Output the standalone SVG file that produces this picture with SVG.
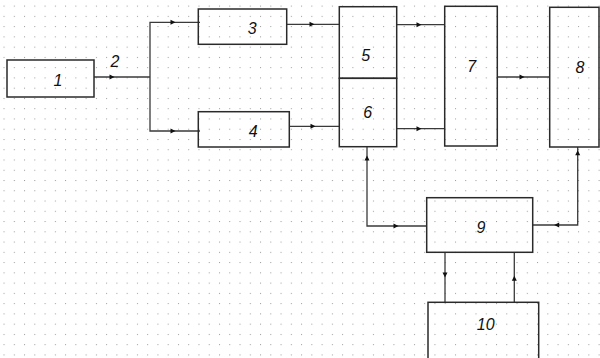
<svg xmlns="http://www.w3.org/2000/svg" width="600" height="358" viewBox="0 0 600 358">
<style>
.box{fill:none;stroke:#2a2a2a;stroke-width:1.5}
.ln{fill:none;stroke:#3a3a3a;stroke-width:1.3}
.lbl{font-family:"Liberation Sans",Arial,sans-serif;font-style:italic;font-size:16px;fill:#111;text-anchor:middle;dominant-baseline:central}
.ah{fill:#111}
</style>
<defs>
<pattern id="dots" patternUnits="userSpaceOnUse" x="13.8" y="5.6" width="10.26" height="10.26">
<rect x="0" y="0" width="1" height="1" fill="#9a9a9a"/>
</pattern>
<polygon id="ar" points="-2.5,-2.5 2.5,0 -2.5,2.5"/>
</defs>
<rect width="600" height="358" fill="#fff"/>
<rect width="600" height="358" fill="url(#dots)"/>
<g id="connectors">
<polyline class="ln" points="94,77 150,77"/>
<polyline class="ln" points="200,22.3 150,22.3 150,131 200,131"/>
<polyline class="ln" points="286.7,24.3 339.3,24.3"/>
<polyline class="ln" points="289.3,126.3 339.3,126.3"/>
<polyline class="ln" points="396.7,24.7 444.7,24.7"/>
<polyline class="ln" points="396.7,128.7 444.7,128.7"/>
<polyline class="ln" points="497.3,77 549.7,77"/>
<polyline class="ln" points="367,147 367,226 426.7,226"/>
<polyline class="ln" points="532.7,225 577.7,225 577.7,147"/>
<polyline class="ln" points="445,252.3 445,302.3"/>
<polyline class="ln" points="514.3,252.3 514.3,302.3"/>
<g class="ah">
<use href="#ar" transform="translate(112,77)"/>
<use href="#ar" transform="translate(173,22.3)"/>
<use href="#ar" transform="translate(173,131)"/>
<use href="#ar" transform="translate(312,24.3)"/>
<use href="#ar" transform="translate(313,126.3)"/>
<use href="#ar" transform="translate(419,24.7)"/>
<use href="#ar" transform="translate(419,128.7)"/>
<use href="#ar" transform="translate(522,77)"/>
<use href="#ar" transform="translate(367,158) rotate(-90)"/>
<use href="#ar" transform="translate(396,226)"/>
<use href="#ar" transform="translate(556.7,225) rotate(180)"/>
<use href="#ar" transform="translate(577.7,152.7) rotate(-90)"/>
<use href="#ar" transform="translate(445,275) rotate(90)"/>
<use href="#ar" transform="translate(514.3,278.3) rotate(-90)"/>
</g>
<text class="lbl" x="115" y="61">2</text>
</g>
<g id="n1"><rect class="box" x="7" y="60" width="87" height="37"/><text class="lbl" x="58" y="80">1</text></g>
<g id="n3"><rect class="box" x="198.3" y="9" width="88.4" height="35.3"/><text class="lbl" x="252.3" y="28">3</text></g>
<g id="n4"><rect class="box" x="198.3" y="111.7" width="91" height="35.3"/><text class="lbl" x="253.3" y="131.7">4</text></g>
<g id="n5"><rect class="box" x="339.3" y="6.7" width="57.4" height="71.6"/><text class="lbl" x="365.7" y="55">5</text></g>
<g id="n6"><rect class="box" x="339.3" y="78.3" width="57.4" height="68.4"/><text class="lbl" x="367.7" y="112.7">6</text></g>
<g id="n7"><rect class="box" x="444.7" y="6.3" width="52.6" height="139.7"/><text class="lbl" x="471.7" y="66.7">7</text></g>
<g id="n8"><rect class="box" x="549.7" y="7.3" width="49.3" height="139.7"/><text class="lbl" x="580" y="67.3">8</text></g>
<g id="n9"><rect class="box" x="426.7" y="197.7" width="106" height="54.6"/><text class="lbl" x="481" y="227.3">9</text></g>
<g id="n10"><rect class="box" x="428" y="302.3" width="110.7" height="70"/><text class="lbl" x="485.7" y="324.3">10</text></g>
</svg>
